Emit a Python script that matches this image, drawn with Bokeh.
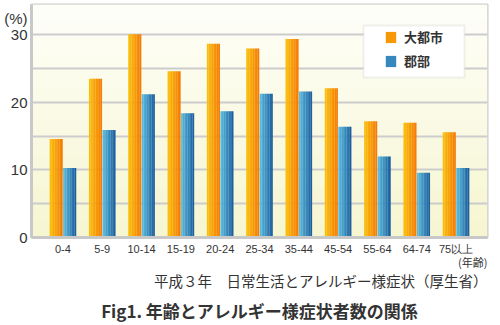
from bokeh.plotting import figure
from bokeh.models import (FactorRange, Range1d, FixedTicker, BoxAnnotation,
                          Legend, LegendItem, Title)
from bokeh.transform import dodge
from bokeh.embed import file_html
from bokeh.resources import INLINE

# ---- data ----
ages = ["0-4", "5-9", "10-14", "15-19", "20-24", "25-34", "35-44", "45-54", "55-64", "64-74", "75以上"]
urban = [14.6, 23.5, 30.1, 24.6, 28.7, 28.0, 29.4, 22.1, 17.2, 17.0, 15.6]
rural = [10.3, 15.9, 21.2, 18.4, 18.7, 21.3, 21.6, 16.4, 12.0, 9.6, 10.3]
series_names = ["大都市", "郡部"]
y_tick_values = [0, 10, 20, 30]
grid_values = [0, 5, 10, 15, 20, 25, 30]
y_unit = "(%)"
x_unit = "(年齢)"
source_note = "平成３年　日常生活とアレルギー様症状（厚生省）"
title_text = "Fig1. 年齢とアレルギー様症状者数の関係"

# ---- styles / label placement ----
LATIN = "Liberation Sans"
CJK = "Noto Sans CJK JP"
TEXT = "#333333"
GRID = "#cccccc"
ORANGE = ((250, 190, 10), (245, 125, 5))
BLUE = ((88, 186, 222), (28, 96, 160))
Y_TOP = 34.5
UNIT_POS = 32.5      # height of the "(%)" caption on the y axis
PAD = 0.3            # padding of the category axis (in category widths)

def lerp(c0, c1, t):
    return "#%02x%02x%02x" % tuple(int(round(a + (b - a) * t)) for a, b in zip(c0, c1))

p = figure(width=500, height=325, x_range=FactorRange(*ages, range_padding=2 * PAD / len(ages)),
           y_range=Range1d(0, Y_TOP), output_backend="svg", toolbar_location=None,
           min_border_left=31, min_border_right=13, min_border_top=4, min_border_bottom=87)
p.background_fill_color = "#fbfbe8"
p.border_fill_color = "white"
p.outline_line_color = GRID
p.outline_line_width = 2

# vertical gradient background (bands)
nb = 14
for i in range(nb):
    t = i / (nb - 1)
    p.add_layout(BoxAnnotation(bottom=Y_TOP * i / nb, top=Y_TOP * (i + 1) / nb + 0.05,
                               fill_color=lerp((246, 246, 210), (254, 254, 248), t),
                               fill_alpha=1, line_alpha=0, level="image"))

# bars with horizontal gradient made of strips
bar_w = 0.33
offsets = [-0.172, 0.172]
nstrip = 8
legend_items = []
for vals, off, (c0, c1), name in zip([urban, rural], offsets, [ORANGE, BLUE], series_names):
    mid = None
    for k in range(nstrip):
        sw = bar_w / nstrip
        o = off - bar_w / 2 + (k + 0.5) * sw
        r = p.vbar(x=dodge("x", o, range=p.x_range), top="top", width=sw * 1.08,
                   source=dict(x=ages, top=vals), fill_color=lerp(c0, c1, k / (nstrip - 1)),
                   line_color=None)
        if k == nstrip // 2:
            mid = r
    legend_items.append(LegendItem(label=name, renderers=[mid]))

# axes
p.yaxis.ticker = FixedTicker(ticks=y_tick_values + [UNIT_POS])
p.yaxis.major_label_overrides = {UNIT_POS: y_unit}
p.ygrid.ticker = FixedTicker(ticks=grid_values)
p.ygrid.grid_line_color = GRID
p.ygrid.grid_line_width = 2
p.xgrid.grid_line_color = None
for ax in (p.xaxis[0], p.yaxis[0]):
    ax.axis_line_color = "#c8c8c8"
    ax.axis_line_width = 3
    ax.major_tick_line_color = None
    ax.minor_tick_line_color = None
    ax.major_tick_out = 0
    ax.major_tick_in = 0
    ax.major_label_text_color = TEXT
    ax.major_label_text_font = LATIN
p.yaxis.major_label_text_font_size = "15px"
p.yaxis.major_label_standoff = 4
p.xaxis.major_label_text_font_size = "11px"
p.xaxis.major_label_standoff = 5

# legend frame + legend (screen units are relative to the frame: x from left, y up from bottom)
p.add_layout(BoxAnnotation(left=332, right=433, top=212, bottom=160,
                           left_units="screen", right_units="screen",
                           top_units="screen", bottom_units="screen",
                           fill_color="white", fill_alpha=1, line_color=GRID, line_width=2))
leg = Legend(items=legend_items, location=(347, 161), orientation="vertical",
             glyph_width=13, glyph_height=14, label_height=14, spacing=5, padding=6,
             label_standoff=7, label_text_font=CJK, label_text_font_style="bold",
             label_text_font_size="13px", label_text_color=TEXT,
             background_fill_alpha=0, border_line_alpha=0, margin=0)
p.add_layout(leg, "center")

# texts below the axis
p.add_layout(Title(text=x_unit, align="right", text_font=CJK, text_font_size="11px",
                   text_font_style="normal", text_color=TEXT, standoff=-11), "below")
p.add_layout(Title(text=source_note, align="right", text_font=CJK, text_font_size="14.5px",
                   text_font_style="normal", text_color=TEXT, standoff=6), "below")
p.add_layout(Title(text=title_text, align="center", text_font=CJK, text_font_size="17px",
                   text_font_style="bold", text_color=TEXT, standoff=5), "below")

open("out.html", "w").write(file_html(p, INLINE))
